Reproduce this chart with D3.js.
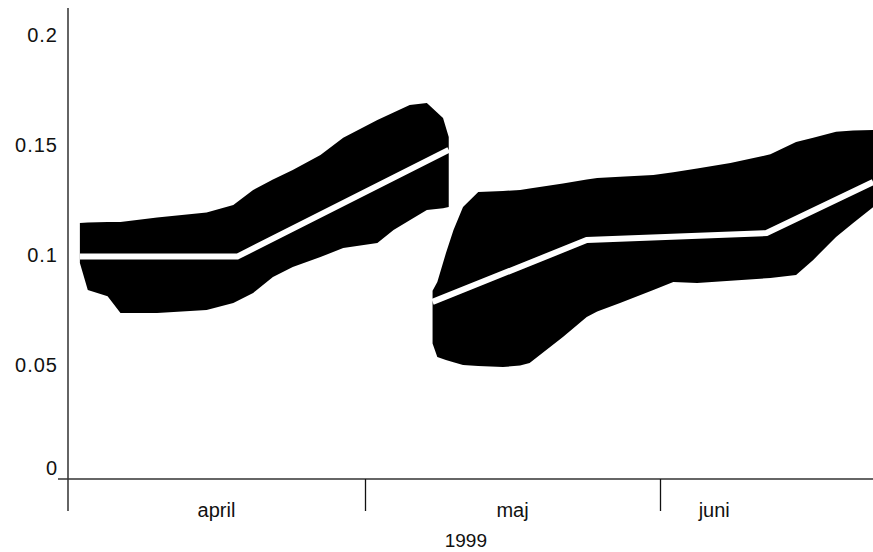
<!DOCTYPE html>
<html>
<head>
<meta charset="utf-8">
<script src="https://cdn.jsdelivr.net/npm/d3@7"></script>
<style>
  body { margin: 0; background: #fff; }
  text { font-family: "Liberation Sans", Arial, sans-serif; fill: #111; }
</style>
</head>
<body>
<svg></svg>
<script>
// days counted from 1 april 1999
let monthStarts = [0, 30, 61]
let monthNames = ["april", "maj", "juni"]
let monthLabelDays = [15, 45.5, 66.7]
let yearLabel = "1999", yearLabelDay = 40.6
let yTicks = [0, 0.05, 0.1, 0.15, 0.2]

// first band (april - early may)
let band1Days  = [1.2, 2, 4, 5.3, 9, 14, 16.7, 18.7, 20.7, 22.7, 25.5, 27.8, 31.3, 33, 34.7, 36.5, 38.2, 38.8]
let band1Upper = [0.1148, 0.115, 0.1152, 0.1152, 0.1173, 0.1195, 0.123, 0.1298, 0.1345, 0.1389, 0.1457, 0.1535, 0.1616, 0.165, 0.1684, 0.1693, 0.1625, 0.1539]
let band1Lower = [0.0966, 0.0843, 0.0815, 0.0739, 0.0739, 0.0752, 0.0784, 0.083, 0.0902, 0.0948, 0.0993, 0.1034, 0.1057, 0.1116, 0.116, 0.1207, 0.1215, 0.122]
let line1Days = [1.2, 17.1, 38.8]
let line1Vals = [0.0995, 0.0995, 0.148]

// second band (may - june)
let band2Days  = [37.1, 37.6, 38.5, 39.3, 40.3, 41.9, 44.5, 46.3, 47.3, 50.8, 53.3, 54.4, 56.8, 60.3, 62.4, 64.9, 68.4, 72.6, 75.3, 77.1, 79.5, 81.3, 83.4]
let band2Upper = [0.084, 0.088, 0.101, 0.1116, 0.122, 0.1289, 0.1293, 0.1298, 0.1305, 0.1327, 0.1345, 0.1352, 0.1358, 0.1366, 0.1378, 0.1395, 0.142, 0.146, 0.1516, 0.1535, 0.1562, 0.1568, 0.157]
let band2Lower = [0.06, 0.0539, 0.0525, 0.0515, 0.0502, 0.0498, 0.0493, 0.05, 0.0511, 0.063, 0.072, 0.0745, 0.0784, 0.0843, 0.088, 0.0875, 0.0885, 0.0898, 0.0911, 0.098, 0.1084, 0.1148, 0.122]
let line2Days = [37.1, 53.3, 72.2, 83.4]
let line2Vals = [0.0789, 0.107, 0.1102, 0.1334]

let svgWidth = 873, svgHeight = 552

let svg = d3.select("svg")
   .attr("width", svgWidth)
   .attr("height", svgHeight)

let x = d3.scaleLinear()
   .domain(monthStarts)
   .range([68, 365, 660])

let y = d3.scaleLinear()
   .domain([-0.0016, 0.2125])
   .range([479, 8])

let area = d3.area()
   .x(d => x(d[0]))
   .y0(d => y(d[2]))
   .y1(d => y(d[1]))

let line = d3.line()
   .x(d => x(d[0]))
   .y(d => y(d[1]))

let bands = [
   d3.zip(band1Days, band1Upper, band1Lower),
   d3.zip(band2Days, band2Upper, band2Lower)
]
let lines = [
   d3.zip(line1Days, line1Vals),
   d3.zip(line2Days, line2Vals)
]

svg.selectAll("path.band")
   .data(bands)
   .enter()
   .append("path")
   .attr("class", "band")
   .attr("d", area)
   .attr("fill", "#000")

svg.selectAll("path.mid")
   .data(lines)
   .enter()
   .append("path")
   .attr("class", "mid")
   .attr("d", line)
   .attr("fill", "none")
   .attr("stroke", "#fff")
   .attr("stroke-width", 6)

// y axis: labels only, plain line drawn below
let yAxis = d3.axisLeft(y)
   .tickValues(yTicks)
   .tickSize(0)
   .tickPadding(10)
   .tickFormat(d => d === 0 ? "0" : String(d))

let gy = svg.append("g")
   .attr("transform", "translate(68,0)")
   .call(yAxis)
gy.select(".domain").remove()
gy.selectAll("text")
   .attr("font-size", 20)
   .attr("letter-spacing", 1)
   .attr("fill", "#111")
gy.selectAll(".tick").filter(d => d === 0).select("text").attr("dy", "-0.05em")

svg.append("line")
   .attr("x1", 68).attr("x2", 68)
   .attr("y1", 8).attr("y2", 511)
   .attr("stroke", "#111").attr("stroke-width", 1.3)

// x axis
svg.append("line")
   .attr("x1", 58).attr("x2", svgWidth)
   .attr("y1", y(-0.0016)).attr("y2", y(-0.0016))
   .attr("stroke", "#333").attr("stroke-width", 1.5)

let xAxis = d3.axisBottom(x)
   .tickValues(monthStarts.slice(1))
   .tickSize(32)
   .tickFormat("")

let gx = svg.append("g")
   .attr("transform", "translate(0," + y(-0.0016) + ")")
   .call(xAxis)
gx.select(".domain").remove()
gx.selectAll("line").attr("stroke", "#111").attr("stroke-width", 1.3)

svg.selectAll("text.month")
   .data(monthNames)
   .enter()
   .append("text")
   .attr("class", "month")
   .attr("x", (d, i) => x(monthLabelDays[i]))
   .attr("y", 517)
   .attr("text-anchor", "middle")
   .attr("font-size", 20)
   .text(d => d)

svg.append("text")
   .attr("x", x(yearLabelDay))
   .attr("y", 547)
   .attr("text-anchor", "middle")
   .attr("font-size", 19)
   .text(yearLabel)
</script>
</body>
</html>
